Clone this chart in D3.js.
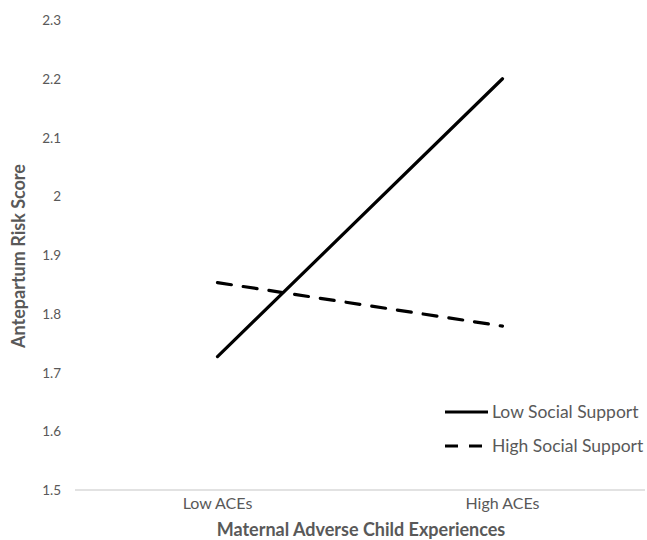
<!DOCTYPE html>
<html><head><meta charset="utf-8">
<script src="https://cdn.jsdelivr.net/npm/d3@7"></script>
<style>body{margin:0;background:#fff}svg{display:block}text{font-family:Lato,"Open Sans",sans-serif}</style>
</head><body>
<svg id="c" width="647" height="540"></svg>
<script>
const categories = ["Low ACEs", "High ACEs"];
const seriesNames = ["Low Social Support", "High Social Support"];
const lowSupport = [1.727, 2.2];
const highSupport = [1.853, 1.779];
const yTicks = [1.5, 1.6, 1.7, 1.8, 1.9, 2, 2.1, 2.2, 2.3];

const svg = d3.select("#c");
const mLeft = 75, mRight = 645, mTop = 20, mBottom = 490;
const x = d3.scaleBand().domain(categories).range([mLeft, mRight]);
const y = d3.scaleLinear().domain([1.5, 2.3]).range([mBottom, mTop]);
const grey = "#595959";

// baseline
svg.append("line").attr("x1", mLeft).attr("x2", mRight).attr("y1", y(1.5)).attr("y2", y(1.5))
  .attr("stroke", "#d9d9d9").attr("stroke-width", 1.3);

// y axis
const yAx = svg.append("g").attr("transform", `translate(${mLeft},0)`)
  .call(d3.axisLeft(y).tickValues(yTicks).tickSize(0).tickPadding(14).tickFormat(d3.format("")));
yAx.select(".domain").remove();
yAx.selectAll("text").attr("fill", grey).attr("font-size", 13.5).attr("dy", "0.35em");

// x axis
const xAx = svg.append("g").attr("transform", `translate(0,${mBottom})`)
  .call(d3.axisBottom(x).tickSize(0).tickPadding(8));
xAx.select(".domain").remove();
xAx.selectAll("text").attr("fill", grey).attr("font-size", 16);

// titles
svg.append("text").attr("x", 361).attr("y", 536).attr("text-anchor", "middle")
  .attr("font-weight", "bold").attr("font-size", 18).attr("fill", grey)
  .text("Maternal Adverse Child Experiences");
svg.append("text").attr("transform", "translate(25,256) rotate(-90)").attr("text-anchor", "middle")
  .attr("font-weight", "bold").attr("font-size", 18).attr("fill", grey)
  .text("Antepartum Risk Score");

const line = d3.line().x((d, i) => x(categories[i]) + x.bandwidth() / 2).y(d => y(d));
svg.append("path").datum(lowSupport).attr("d", line).attr("fill", "none")
  .attr("stroke", "#000").attr("stroke-width", 3.2).attr("stroke-linecap", "round");
svg.append("path").datum(highSupport).attr("d", line).attr("fill", "none")
  .attr("stroke", "#000").attr("stroke-width", 3.2).attr("stroke-linecap", "round")
  .attr("stroke-dasharray", "14 12");

// legend
const leg = [{name: seriesNames[0], dash: null, yy: 412}, {name: seriesNames[1], dash: "13 11", yy: 446}];
leg.forEach(l => {
  svg.append("line").attr("x1", 445).attr("x2", 488).attr("y1", l.yy).attr("y2", l.yy)
    .attr("stroke", "#000").attr("stroke-width", 3.2).attr("stroke-dasharray", l.dash);
  svg.append("text").attr("x", 492).attr("y", l.yy).attr("dy", "0.35em")
    .attr("font-size", 17.5).attr("fill", grey).text(l.name);
});
</script>
</body></html>
